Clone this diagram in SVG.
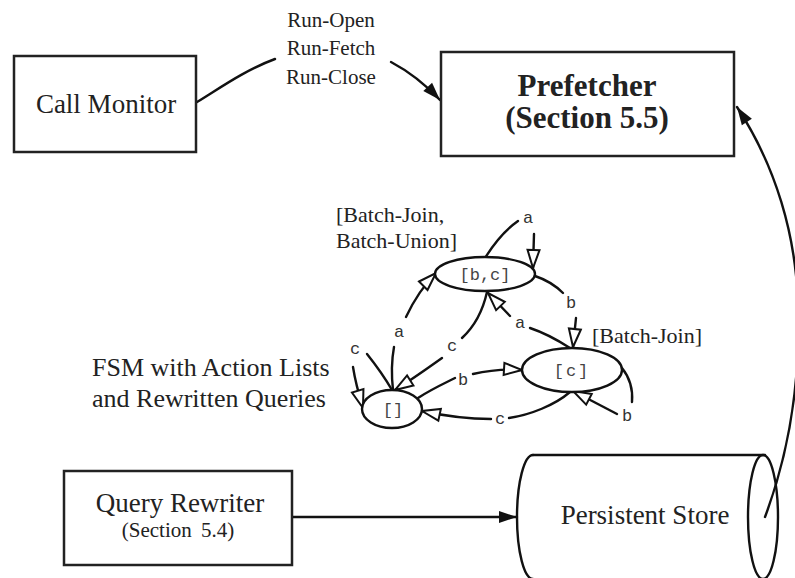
<svg xmlns="http://www.w3.org/2000/svg" width="795" height="578" viewBox="0 0 795 578">
  <defs>
    <marker id="solid" markerUnits="userSpaceOnUse" markerWidth="22" markerHeight="16" refX="19" refY="7" orient="auto">
      <path d="M1,1 L19,7 L1,13 Z" fill="#111"/>
    </marker>
    <marker id="hollow" markerUnits="userSpaceOnUse" markerWidth="24" markerHeight="18" refX="20" refY="8" orient="auto">
      <path d="M2,2 L20,8 L2,14 Z" fill="#fff" stroke="#111" stroke-width="2" stroke-linejoin="miter"/>
    </marker>
    <style>
      .box { fill: #fff; stroke: #222; stroke-width: 2.5; }
      .line { fill: none; stroke: #111; stroke-width: 2.4; stroke-linecap: round; }
      .state { fill: #fff; stroke: #111; stroke-width: 2.4; }
      .mono { fill: #444; }
      .sym { font-size: 17px; fill: #333; text-anchor: middle; }
    </style>
  </defs>

  <rect width="795" height="578" fill="#fff"/>

  <!-- connectors between the components -->
  <g id="connectors">
    <path class="line" d="M197,102 C220,88 245,70 275,59"/>
    <path class="line" d="M391,62 C408,71 425,84 440,100" marker-end="url(#solid)"/>
    <path class="line" d="M292,517 L517,517" marker-end="url(#solid)"/>
    <path class="line" d="M765,517 C790,450 800,380 798,310 C797,235 775,165 737,107" marker-end="url(#solid)"/>
  </g>

  <g font-family="'Liberation Serif', 'Times New Roman', 'DejaVu Serif', serif" fill="#222">
    <g id="call-monitor">
      <rect class="box" x="14" y="56" width="182" height="96"/>
      <text x="106" y="113" font-size="27" text-anchor="middle">Call Monitor</text>
    </g>

    <g id="call-labels" font-size="21" text-anchor="middle">
      <text x="331" y="27">Run-Open</text>
      <text x="331" y="55">Run-Fetch</text>
      <text x="331" y="84">Run-Close</text>
    </g>

    <g id="prefetcher">
      <rect class="box" x="441" y="52" width="293" height="104"/>
      <text x="587" y="96" font-size="31" font-weight="bold" text-anchor="middle">Prefetcher</text>
      <text x="587" y="128" font-size="31" font-weight="bold" text-anchor="middle">(Section 5.5)</text>
    </g>

    <g id="query-rewriter">
      <rect class="box" x="64" y="471" width="228" height="94"/>
      <text x="180" y="512" font-size="27" text-anchor="middle">Query Rewriter</text>
      <text x="178" y="537" font-size="21" text-anchor="middle" word-spacing="4">(Section 5.4)</text>
    </g>

    <g id="persistent-store">
      <path class="line" d="M533,455 L765,455"/>
      <path class="line" d="M533,455 A16,62 0 0 0 533,579"/>
      <ellipse class="line" cx="763" cy="517" rx="15" ry="62"/>
      <text x="645" y="524" font-size="27" text-anchor="middle">Persistent Store</text>
    </g>

    <!-- caption of the state machine -->
    <g id="fsm-caption" font-size="26">
      <text x="92" y="376">FSM with Action Lists</text>
      <text x="92" y="407">and Rewritten Queries</text>
    </g>

    <g id="action-labels" font-size="22">
      <text x="336" y="222">[Batch-Join,</text>
      <text x="336" y="248">Batch-Union]</text>
      <text x="592" y="343">[Batch-Join]</text>
    </g>
  </g>

  <!-- finite state machine -->
  <g font-family="'Liberation Mono', 'Courier New', 'DejaVu Sans Mono', monospace">
    <g id="fsm-transitions">
      <!-- [b,c] -a-> [b,c] -->
      <path class="line" d="M485,258 C495,242 508,228 518,221"/>
      <text class="sym" x="528" y="223">a</text>
      <path class="line" d="M534,234 L533,268" marker-end="url(#hollow)"/>
      <!-- [b,c] -b-> [c] -->
      <path class="line" d="M535,276 C547,280 557,287 563,293"/>
      <text class="sym" x="571" y="308">b</text>
      <path class="line" d="M576,318 L573,347" marker-end="url(#hollow)"/>
      <!-- [c] -a-> [b,c] -->
      <path class="line" d="M570,348 C556,339 542,332 530,328"/>
      <text class="sym" x="520" y="328">a</text>
      <path class="line" d="M510,316 L488,293" marker-end="url(#hollow)"/>
      <!-- [b,c] -c-> [] -->
      <path class="line" d="M487,292 C483,310 475,326 462,338"/>
      <text class="sym" x="452" y="351">c</text>
      <path class="line" d="M442,358 C428,368 411,380 395,390" marker-end="url(#hollow)"/>
      <!-- [] -a-> [b,c] -->
      <path class="line" d="M393,390 C391,372 392,358 394,347"/>
      <text class="sym" x="399" y="337">a</text>
      <path class="line" d="M406,317 C414,300 424,285 436,273" marker-end="url(#hollow)"/>
      <!-- [] -c-> [] -->
      <path class="line" d="M392,390 C385,378 375,364 367,354"/>
      <text class="sym" x="355" y="354">c</text>
      <path class="line" d="M353,367 C355,380 359,395 363,408" marker-end="url(#hollow)"/>
      <!-- [] -b-> [c] -->
      <path class="line" d="M418,398 C430,390 445,383 455,378"/>
      <text class="sym" x="463" y="385">b</text>
      <path class="line" d="M473,374 C490,370 506,369 522,370" marker-end="url(#hollow)"/>
      <!-- [c] -c-> [] -->
      <path class="line" d="M570,392 C555,405 530,415 509,418"/>
      <text class="sym" x="500" y="424">c</text>
      <path class="line" d="M491,419 C470,419 445,416 422,411" marker-end="url(#hollow)"/>
      <!-- [c] -b-> [c] -->
      <path class="line" d="M622,368 C630,378 633,390 632,402"/>
      <text class="sym" x="627" y="421">b</text>
      <path class="line" d="M617,414 L573,391" marker-end="url(#hollow)"/>
    </g>

    <g id="state-bc">
      <ellipse class="state" cx="485" cy="274" rx="50" ry="17"/>
      <text class="mono" x="485" y="280" font-size="17" text-anchor="middle">[b,c]</text>
    </g>
    <g id="state-c">
      <ellipse class="state" cx="572" cy="370" rx="50" ry="22"/>
      <text class="mono" x="572" y="376" font-size="17" text-anchor="middle" letter-spacing="2">[c]</text>
    </g>
    <g id="state-empty">
      <ellipse class="state" cx="392" cy="409" rx="30" ry="19"/>
      <text class="mono" x="393" y="415" font-size="17" text-anchor="middle">[]</text>
    </g>
  </g>
</svg>
